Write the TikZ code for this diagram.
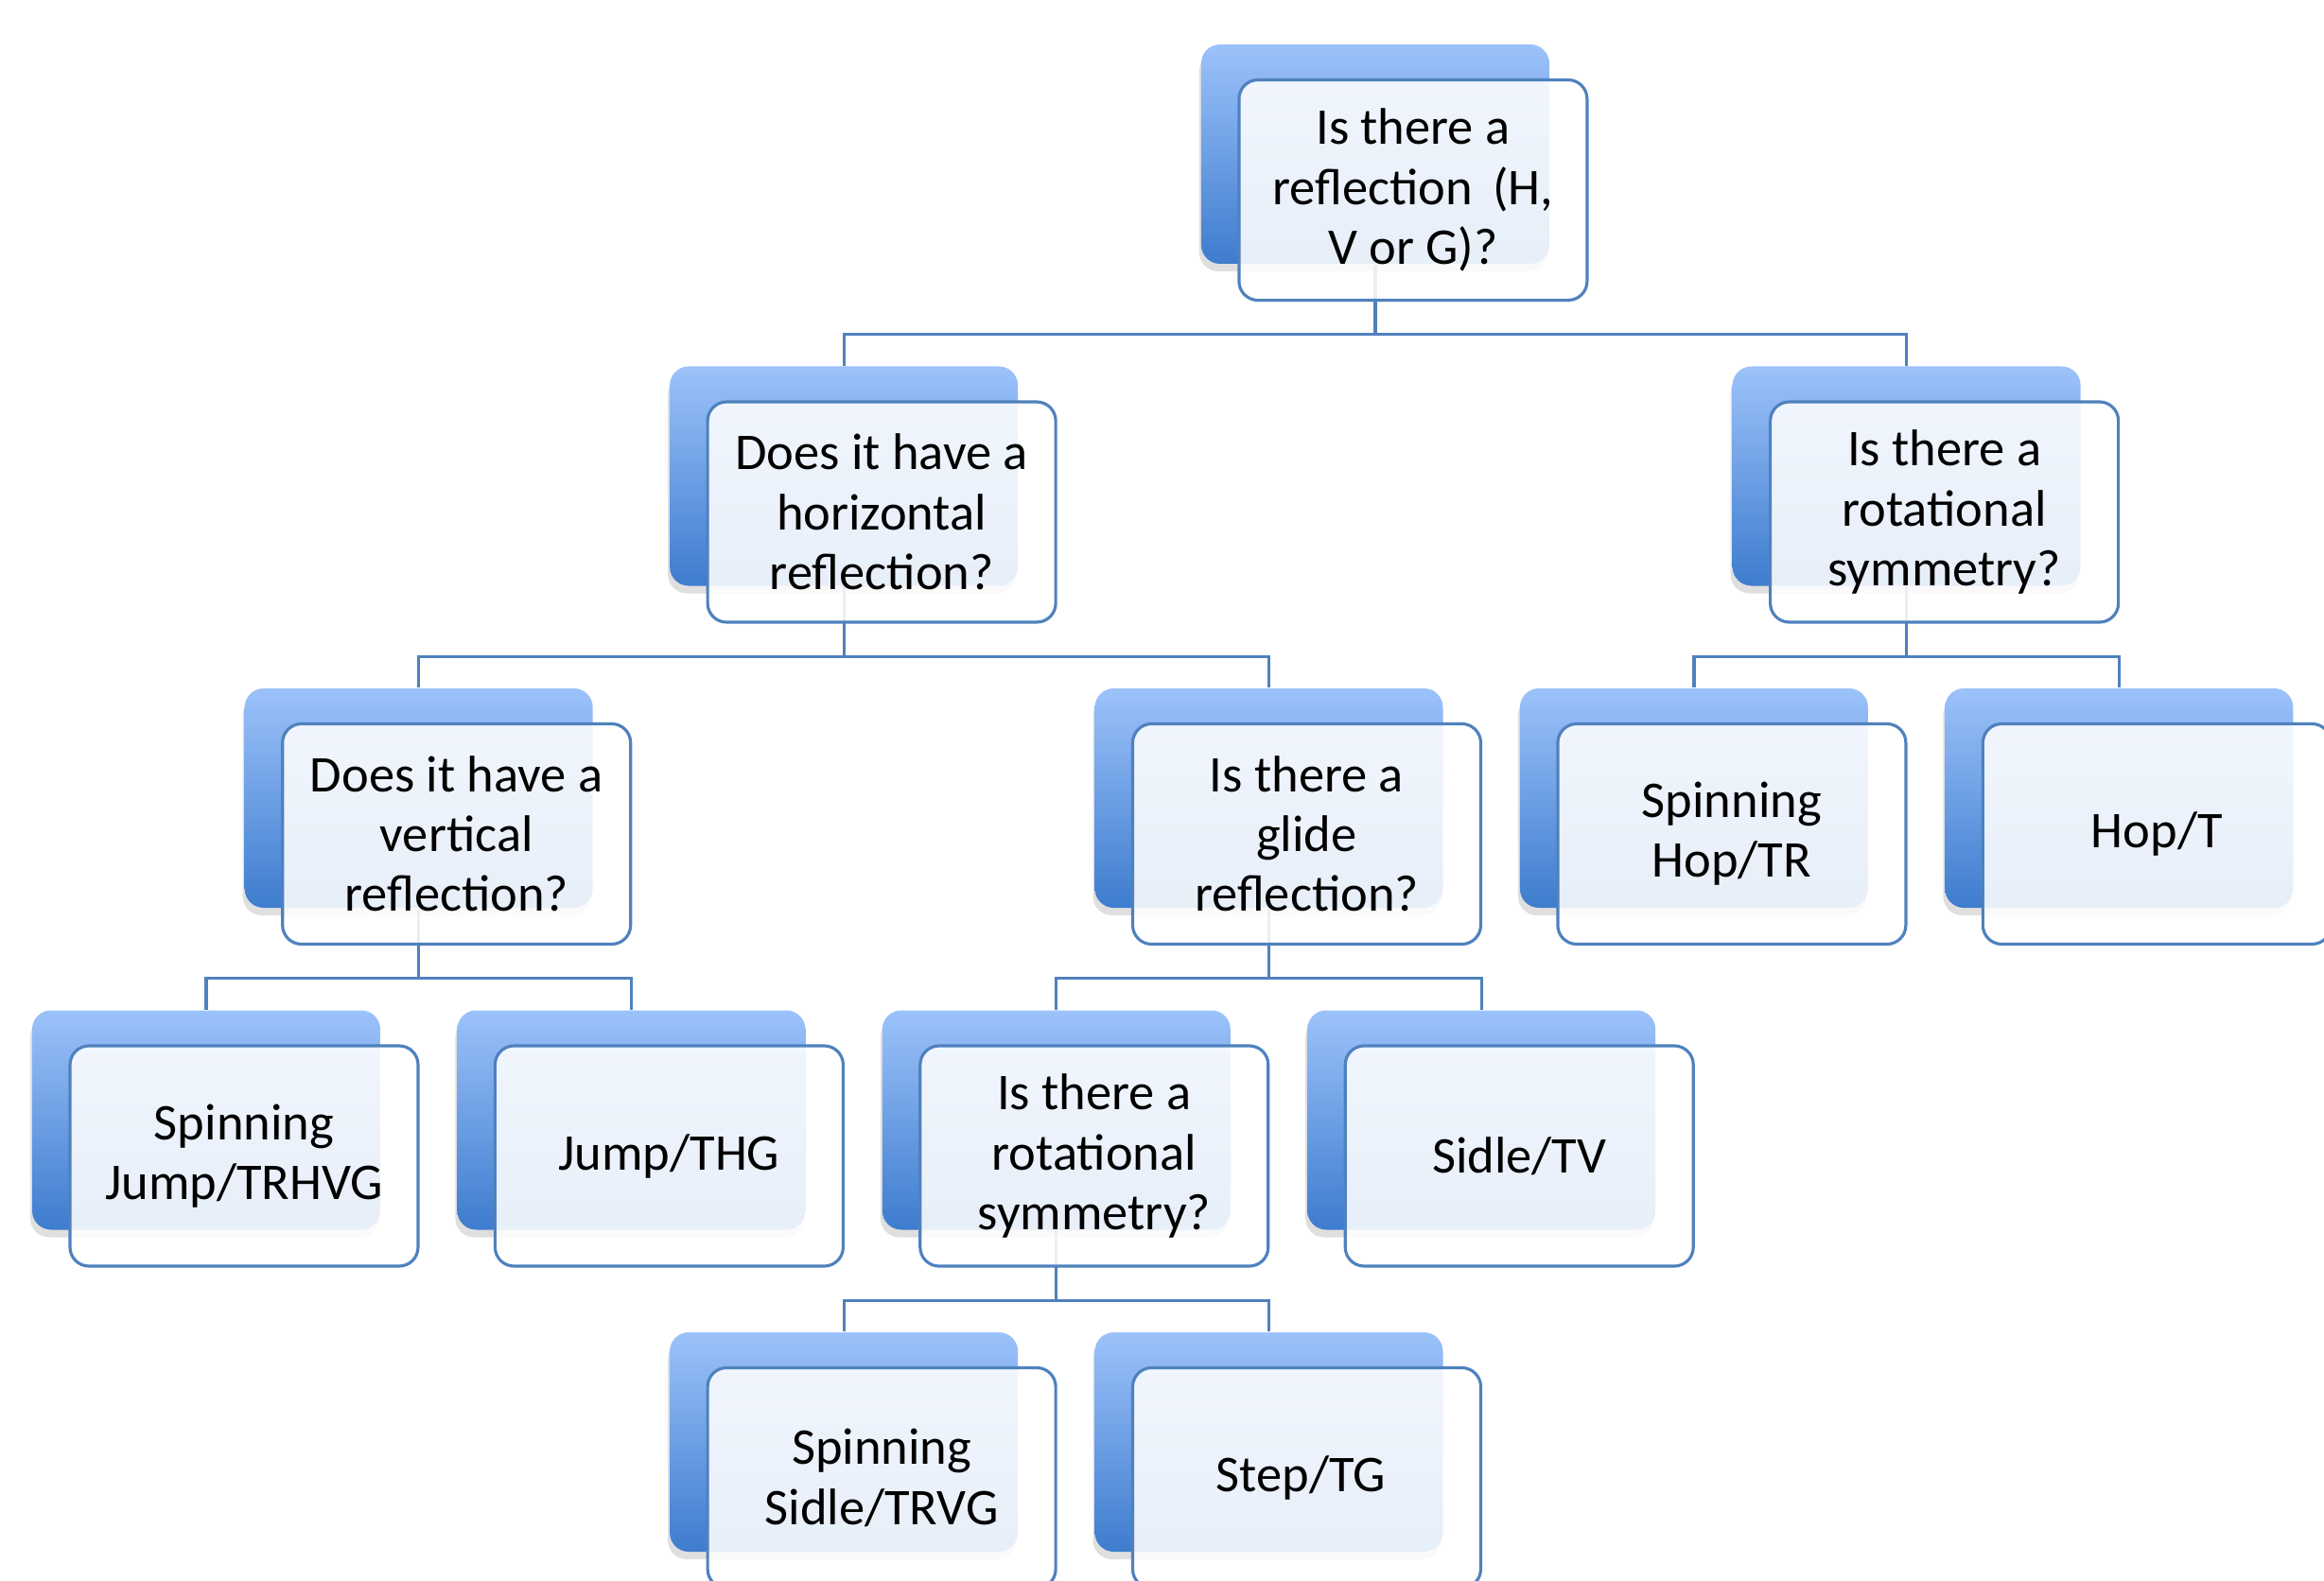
\documentclass[tikz,border=0pt]{standalone}
\usepackage{fontspec}
\setmainfont{Carlito}
\usetikzlibrary{positioning,shadows,backgrounds,calc}
\definecolor{boxblue}{RGB}{79,129,189}
\definecolor{backtop}{RGB}{156,194,250}
\definecolor{backbot}{RGB}{62,124,206}

\begin{document}
\begin{tikzpicture}[
  backcard/.style={rectangle, rounded corners=0.2cm, minimum width=3.68cm, minimum height=2.32cm,
    top color=backtop, bottom color=backbot,
    drop shadow={shadow xshift=-0.02cm, shadow yshift=-0.08cm, opacity=0.25}},
  frontcard/.style={rectangle, rounded corners=0.2cm, minimum width=3.68cm, minimum height=2.33cm,
    draw=boxblue, line width=0.9pt, fill=white, fill opacity=0.88, text opacity=1,
    align=center, font=\fontsize{15.5}{18}\selectfont},
  link/.style={draw=boxblue, line width=0.9pt}
]
\useasboundingbox (0,0) rectangle (24.57,-16.72);

% Cards: blue back card, white front card shifted down right
\foreach \nm/\px/\py/\txt in {
  refl/14.539/-1.63/{Is there a\\reflection\, (H,\\V or G)?},
  horiz/8.921/-5.035/{Does it have a\\horizontal\\reflection?},
  rotA/20.156/-5.035/{Is there a\\rotational\\symmetry?},
  vert/4.427/-8.44/{Does it have a\\vertical\\reflection?},
  glide/13.415/-8.44/{Is there a\\glide\\reflection?},
  spinhop/17.909/-8.44/{Spinning\\Hop/TR},
  hop/22.403/-8.44/{Hop/T},
  spinjump/2.18/-11.845/{Spinning\\Jump/TRHVG},
  jump/6.674/-11.845/{Jump/THG},
  rotB/11.168/-11.845/{Is there a\\rotational\\symmetry?},
  sidle/15.662/-11.845/{Sidle/TV},
  spinsidle/8.921/-15.25/{Spinning\\Sidle/TRVG},
  steptg/13.415/-15.25/{Step/TG}
}{
  \node[backcard] (b\nm) at (\px,\py) {};
  \node[frontcard] (f\nm) at ([shift={(0.40,-0.38)}]b\nm.center) {\txt};
}

% Tree connectors
\begin{scope}[on background layer]
\draw[link] (brefl.south) -- ++(0,-0.74) -| (bhoriz.north);
\draw[link] (brefl.south) -- ++(0,-0.74) -| (brotA.north);
\draw[link] (bhoriz.south) -- ++(0,-0.74) -| (bvert.north);
\draw[link] (bhoriz.south) -- ++(0,-0.74) -| (bglide.north);
\draw[link] (brotA.south) -- ++(0,-0.74) -| (bspinhop.north);
\draw[link] (brotA.south) -- ++(0,-0.74) -| (bhop.north);
\draw[link] (bvert.south) -- ++(0,-0.74) -| (bspinjump.north);
\draw[link] (bvert.south) -- ++(0,-0.74) -| (bjump.north);
\draw[link] (bglide.south) -- ++(0,-0.74) -| (brotB.north);
\draw[link] (bglide.south) -- ++(0,-0.74) -| (bsidle.north);
\draw[link] (brotB.south) -- ++(0,-0.74) -| (bspinsidle.north);
\draw[link] (brotB.south) -- ++(0,-0.74) -| (bsteptg.north);
\end{scope}
\end{tikzpicture}
\end{document}
